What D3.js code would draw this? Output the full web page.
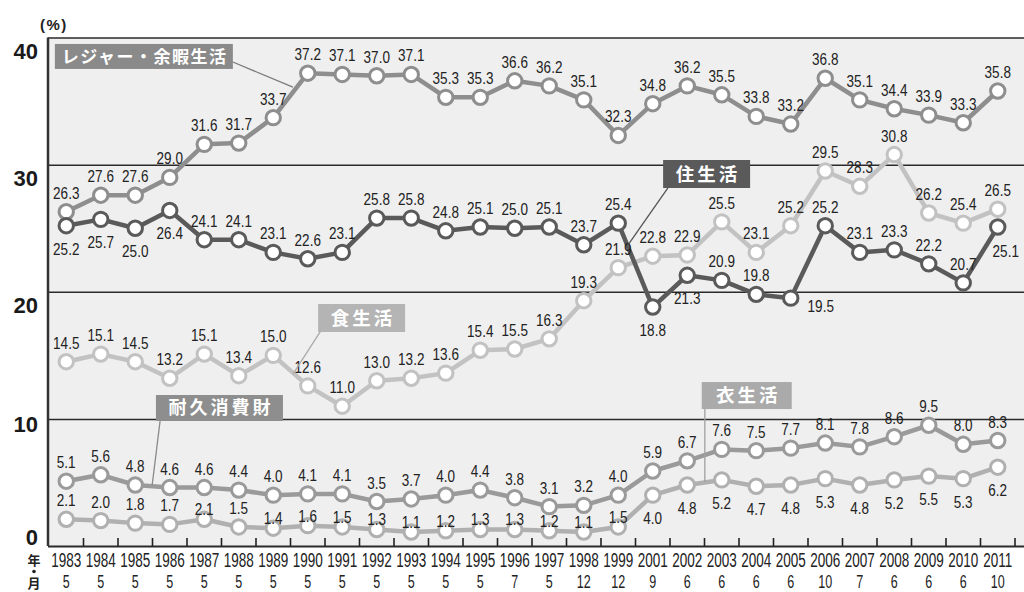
<!DOCTYPE html>
<html lang="ja">
<head>
<meta charset="utf-8">
<script src="https://cdn.jsdelivr.net/npm/d3@7"></script>
<style>
  html, body { margin: 0; padding: 0; background: #ffffff; }
  svg { display: block; }
</style>
</head>
<body>
<svg id="chart" width="1024" height="592"></svg>
<script>
// Survey years and months
const years  = ["1983","1984","1985","1986","1987","1988","1989","1990","1991","1992","1993","1994","1995","1996","1997","1998","1999","2001","2002","2003","2004","2005","2006","2007","2008","2009","2010","2011"];
const months = ["5","5","5","5","5","5","5","5","5","5","5","5","5","7","5","12","12","9","6","6","6","6","10","7","6","6","6","10"];

// Share of respondents (%) per area of life
const leisure  = [26.3,27.6,27.6,29.0,31.6,31.7,33.7,37.2,37.1,37.0,37.1,35.3,35.3,36.6,36.2,35.1,32.3,34.8,36.2,35.5,33.8,33.2,36.8,35.1,34.4,33.9,33.3,35.8];
const housing  = [25.2,25.7,25.0,26.4,24.1,24.1,23.1,22.6,23.1,25.8,25.8,24.8,25.1,25.0,25.1,23.7,25.4,18.8,21.3,20.9,19.8,19.5,25.2,23.1,23.3,22.2,20.7,25.1];
const food     = [14.5,15.1,14.5,13.2,15.1,13.4,15.0,12.6,11.0,13.0,13.2,13.6,15.4,15.5,16.3,19.3,21.9,22.8,22.9,25.5,23.1,25.2,29.5,28.3,30.8,26.2,25.4,26.5];
const durable  = [5.1,5.6,4.8,4.6,4.6,4.4,4.0,4.1,4.1,3.5,3.7,4.0,4.4,3.8,3.1,3.2,4.0,5.9,6.7,7.6,7.5,7.7,8.1,7.8,8.6,9.5,8.0,8.3];
const clothing = [2.1,2.0,1.8,1.7,2.1,1.5,1.4,1.6,1.5,1.3,1.1,1.2,1.3,1.3,1.2,1.1,1.5,4.0,4.8,5.2,4.7,4.8,5.3,4.8,5.2,5.5,5.3,6.2];

const seriesNames = ["レジャー・余暇生活","住生活","食生活","耐久消費財","衣生活"];
const yTicks = [0, 10, 20, 30, 40];

// Where each value label sits relative to its point:
// a = above, o = above (overlapping the marker), b = below, r = lower right, R = below, nudged right
const leisurePlace  = "aaaaaaaaaaaaaaaaaaaaaaaaaaaa";
const housingPlace  = "bbbbaaaaaaaaaaaaabbaaraaaaaR";
const foodPlace     = "aaaaaaaaaaaaaaaaaaaaaaaaaaaa";
const durablePlace  = "aaaaaaaaaaaaaaaaaaaaaaaaaaaa";
const clothingPlace = "aaaaoaooooooooooobbbbbbbbbbb";

const placeOffset = {
  a: { dx: 0,  dy: -13 },
  o: { dx: 0,  dy: -4 },
  b: { dx: 0,  dy: 29 },
  r: { dx: 30, dy: 14 },
  R: { dx: 8,  dy: 30 }
};

const plotLeft = 48, plotRight = 1024;
const svg = d3.select("#chart");

const x = d3.scaleBand().domain(years).range([49, 1015]).padding(0);
const bw = x.bandwidth();
const y = d3.scaleLinear().domain([0, 40]).range([546, 37.6]);
// fractional category index -> pixel, for callouts
const xi = d3.scaleLinear().domain([0, years.length - 1])
  .range([x(years[0]) + bw / 2, x(years[years.length - 1]) + bw / 2]);

const numFont = "'Liberation Sans', Arial, sans-serif";
const cjkFont = "'Noto Sans CJK JP', 'Noto Sans CJK SC', sans-serif";

// plot background
svg.append("rect")
  .attr("x", plotLeft).attr("y", y(40))
  .attr("width", plotRight - plotLeft).attr("height", y(0) - y(40))
  .attr("fill", "#efefef");

// y axis with full-width gridlines
const yAxis = svg.append("g")
  .attr("transform", `translate(${plotLeft},0)`)
  .call(d3.axisLeft(y).tickValues(yTicks).tickSize(-(plotRight - plotLeft)).tickPadding(10));
yAxis.select(".domain").remove();
yAxis.selectAll(".tick line")
  .attr("stroke", "#2a2a2a").attr("stroke-width", d => d === 0 ? 2 : 1.5);
yAxis.selectAll(".tick text")
  .attr("font-family", numFont).attr("font-size", 22).attr("font-weight", "bold")
  .attr("fill", "#1a1a1a")
  .attr("dy", d => d >= 20 ? "0.95em" : d === 10 ? "0.55em" : "-0.05em");

// left frame
svg.append("line")
  .attr("x1", plotLeft).attr("x2", plotLeft)
  .attr("y1", y(40)).attr("y2", y(0))
  .attr("stroke", "#333").attr("stroke-width", 2.5);

// category separator ticks along the baseline
const sepPos = years.slice(1).map(d => x(d)).concat([x(years[years.length - 1]) + bw]);
svg.append("g").selectAll("line").data(sepPos).join("line")
  .attr("x1", d => d).attr("x2", d => d)
  .attr("y1", y(0)).attr("y2", y(0) - 8)
  .attr("stroke", "#222").attr("stroke-width", 1.6);

// (%) unit
svg.append("text")
  .attr("x", 40).attr("y", 30)
  .attr("font-family", numFont).attr("font-size", 15).attr("font-weight", "bold")
  .attr("letter-spacing", 1.5)
  .attr("fill", "#222")
  .text("(%)");

// x axis: year row, month row
const xAxis = svg.append("g")
  .attr("transform", `translate(0,${y(0)})`)
  .call(d3.axisBottom(x).tickSize(0).tickPadding(0));
xAxis.select(".domain").remove();
xAxis.selectAll(".tick text").remove();
xAxis.selectAll(".tick").each(function (d, i) {
  const g = d3.select(this);
  g.append("text")
    .attr("transform", "translate(0,21) scale(0.66,1)")
    .attr("text-anchor", "middle")
    .attr("font-family", numFont).attr("font-size", 20.5)
    .attr("fill", "#222")
    .text(d);
  g.append("text")
    .attr("transform", "translate(0,42) scale(0.66,1)")
    .attr("text-anchor", "middle")
    .attr("font-family", numFont).attr("font-size", 19)
    .attr("fill", "#222")
    .text(months[i]);
});

// 年・月 caption (the middle dot drawn as a small disc)
const ym = svg.append("g").attr("font-family", cjkFont).attr("font-weight", "bold")
  .attr("fill", "#222").attr("text-anchor", "middle");
ym.append("text").attr("x", 34).attr("y", 565).attr("font-size", 13).text("年");
ym.append("circle").attr("cx", 34).attr("cy", 571.5).attr("r", 1.8).attr("fill", "#222");
ym.append("text").attr("x", 34).attr("y", 587.5).attr("font-size", 13).text("月");

// series, drawn back to front
const series = [
  { name: seriesNames[0], values: leisure,  place: leisurePlace,  color: "#8e8e8e" },
  { name: seriesNames[2], values: food,     place: foodPlace,     color: "#c2c2c2" },
  { name: seriesNames[4], values: clothing, place: clothingPlace, color: "#b0b0b0" },
  { name: seriesNames[3], values: durable,  place: durablePlace,  color: "#9a9a9a" },
  { name: seriesNames[1], values: housing,  place: housingPlace,  color: "#5a5a5a" }
];

const line = d3.line()
  .x((d, i) => x(years[i]) + bw / 2)
  .y(d => y(d));

const marks = svg.append("g");
series.forEach(s => {
  const g = marks.append("g");
  g.append("path")
    .attr("d", line(s.values))
    .attr("fill", "none")
    .attr("stroke", s.color)
    .attr("stroke-width", 4.5)
    .attr("stroke-linejoin", "round");
  g.selectAll("circle").data(s.values).join("circle")
    .attr("cx", (d, i) => x(years[i]) + bw / 2)
    .attr("cy", d => y(d))
    .attr("r", 7.2)
    .attr("fill", "#ffffff")
    .attr("stroke", s.color)
    .attr("stroke-width", 3);
});

// value labels on top of markers
const labels = svg.append("g");
series.forEach(s => {
  labels.append("g").selectAll("text").data(s.values).join("text")
    .attr("transform", (d, i) => {
      const o = placeOffset[s.place[i]];
      return `translate(${x(years[i]) + bw / 2 + o.dx},${y(d) + o.dy}) scale(0.82,1)`;
    })
    .attr("text-anchor", "middle")
    .attr("font-family", numFont).attr("font-size", 16.5)
    .attr("fill", "#222")
    .text(d => d.toFixed(1));
});

// series name callouts with leader lines
const callouts = [
  { name: seriesNames[0], fill: "#8a8a8a", at: [-0.33, 39.5], w: 178, h: 25, fs: 17, ls: 1.5,
    lead: [[4.83, 38.08], [6.57, 36.1]], leadColor: "#7a7a7a" },
  { name: seriesNames[1], fill: "#5a5a5a", at: [17.3, 30.37], w: 87, h: 28, fs: 18.5, ls: 3,
    lead: [[17.44, 28.17], [16.28, 23.68]], leadColor: "#555555" },
  { name: seriesNames[2], fill: "#b4b4b4", at: [7.3, 19.04], w: 87, h: 28, fs: 18.5, ls: 3,
    lead: [[7.36, 16.84], [6.57, 13.53]], leadColor: "#aaaaaa" },
  { name: seriesNames[3], fill: "#8e8e8e", at: [2.6, 11.88], w: 127, h: 26, fs: 18, ls: 3,
    lead: [[2.72, 9.83], [2.49, 4.8]], leadColor: "#8a8a8a" },
  { name: seriesNames[4], fill: "#aaaaaa", at: [18.42, 12.9], w: 90, h: 27, fs: 18.5, ls: 3,
    lead: [[18.51, 10.78], [18.51, 5.04]], leadColor: "#a0a0a0" }
];

const co = svg.append("g");
callouts.forEach(c => {
  co.append("line")
    .attr("x1", xi(c.lead[0][0])).attr("y1", y(c.lead[0][1]))
    .attr("x2", xi(c.lead[1][0])).attr("y2", y(c.lead[1][1]))
    .attr("stroke", c.leadColor).attr("stroke-width", 1.3);
  const bx = xi(c.at[0]), by = y(c.at[1]);
  co.append("rect")
    .attr("x", bx).attr("y", by).attr("width", c.w).attr("height", c.h)
    .attr("fill", c.fill);
  co.append("text")
    .attr("x", bx + c.w / 2 + c.ls / 2).attr("y", by + c.h / 2)
    .attr("dy", "0.36em")
    .attr("text-anchor", "middle")
    .attr("font-family", cjkFont).attr("font-weight", "bold")
    .attr("font-size", c.fs).attr("letter-spacing", c.ls)
    .attr("fill", "#ffffff")
    .text(c.name);
});
</script>
</body>
</html>
